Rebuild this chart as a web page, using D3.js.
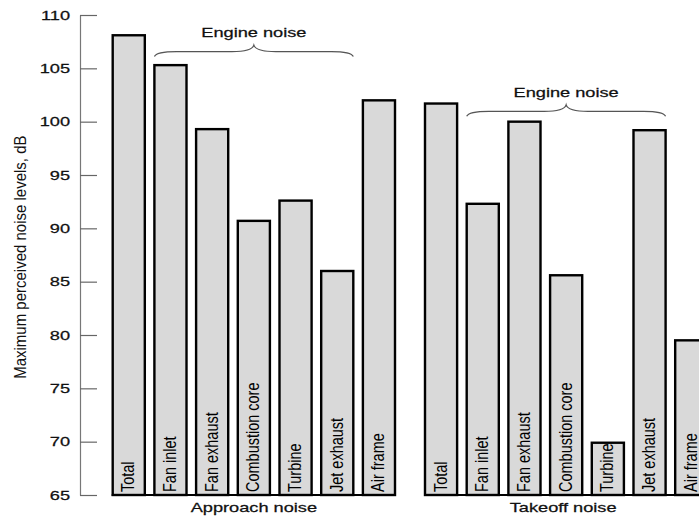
<!DOCTYPE html>
<html>
<head>
<meta charset="utf-8">
<script src="https://cdn.jsdelivr.net/npm/d3@7"></script>
<style>
  html, body { margin: 0; padding: 0; background: #fff; }
  svg { display: block; font-family: "Liberation Sans", Arial, sans-serif; }
</style>
</head>
<body>
<div id="chart"></div>
<script>
// --- datos ---
const categories = ['Total', 'Fan inlet', 'Fan exhaust', 'Combustion core', 'Turbine', 'Jet exhaust', 'Air frame'];
const engineParts = ['Fan inlet', 'Fan exhaust', 'Combustion core', 'Turbine', 'Jet exhaust'];
const groups = ['Approach noise', 'Takeoff noise'];
const approachValues = [108.1, 105.3, 99.3, 90.7, 92.6, 86.0, 102.0];
const takeoffValues = [101.7, 92.3, 100.0, 85.6, 69.9, 99.2, 79.5];
const braceLevels = [106.1, 100.5]; // nivel (dB) de la llave "Engine noise"
const yTicks = [65, 70, 75, 80, 85, 90, 95, 100, 105, 110];
const yLabel = 'Maximum perceived noise levels, dB';
const braceLabel = 'Engine noise';

const width = 699, height = 521;
const stretch = 1.4; // el original está estirado en horizontal

const svg = d3.select('#chart').append('svg')
  .attr('width', width)
  .attr('height', height);

const y = d3.scaleLinear().domain([65, 110]).range([495, 15]);

// una escala de bandas por grupo
const groupRanges = [[112.7, 395], [425, 707.3]];
const xScales = groupRanges.map(r => d3.scaleBand()
  .domain(categories)
  .range(r)
  .paddingInner(0.23)
  .paddingOuter(0)
  .align(0));

// --- eje Y ---
const axis = svg.append('g')
  .attr('transform', 'translate(80,0)')
  .call(d3.axisLeft(y).tickValues(yTicks).tickSizeInner(-17).tickSizeOuter(0).tickPadding(10));
axis.select('.domain').attr('stroke', '#777').attr('stroke-width', 1.2);
axis.selectAll('.tick line').attr('stroke', '#666').attr('stroke-width', 1.2);
axis.selectAll('.tick text')
  .attr('x', -10 / stretch)
  .attr('transform', `scale(${stretch},1)`)
  .attr('font-size', 13)
  .attr('font-family', '"Liberation Sans", Arial, sans-serif')
  .attr('fill', '#111')
  .attr('stroke', '#111')
  .attr('stroke-width', 0.25);

svg.append('text')
  .attr('transform', `translate(26,${y(87.3)}) scale(1.15,1) rotate(-90)`)
  .attr('text-anchor', 'middle')
  .attr('font-size', 15)
  .attr('fill', '#111')
  .text(yLabel);

// --- grupos ---
const seriesValues = [approachValues, takeoffValues];
groups.forEach((gname, gi) => {
  const x = xScales[gi];
  const vals = seriesValues[gi];
  const g = svg.append('g');

  // línea base
  g.append('line')
    .attr('x1', x.range()[0] - 1)
    .attr('x2', x.range()[1] + 1)
    .attr('y1', y(65))
    .attr('y2', y(65))
    .attr('stroke', '#000')
    .attr('stroke-width', 2);

  // barras
  g.selectAll('rect')
    .data(categories)
    .join('rect')
    .attr('x', d => x(d))
    .attr('y', (d, i) => y(vals[i]))
    .attr('width', x.bandwidth())
    .attr('height', (d, i) => y(65) - y(vals[i]))
    .attr('fill', '#d9d9d9')
    .attr('stroke', '#000')
    .attr('stroke-width', 2.4);

  // etiquetas dentro de las barras
  g.selectAll('text.bar-label')
    .data(categories)
    .join('text')
    .attr('class', 'bar-label')
    .attr('transform', d => `translate(${x(d) + x.bandwidth() / 2 + 5.5},${y(65) - 3}) scale(1.3,1) rotate(-90)`)
    .attr('font-size', 14.5)
    .attr('fill', '#000')
    .text(d => d);

  // título del grupo
  const cx = (x.range()[0] + x.range()[1]) / 2 - 3 * gi;
  svg.append('text')
    .attr('transform', `translate(${cx},512) scale(${stretch},1)`)
    .attr('text-anchor', 'middle')
    .attr('font-size', 13)
    .attr('fill', '#111')
    .attr('stroke', '#111')
    .attr('stroke-width', 0.25)
    .text(gname);

  // llave "Engine noise"
  const x0 = x(engineParts[0]);
  const x1 = x(engineParts[engineParts.length - 1]) + x.bandwidth();
  const xm = (x0 + x1) / 2;
  const yEnd = y(braceLevels[gi]);
  const yFlat = yEnd - 5;
  const yTip = yEnd - 11.5;
  const path = d3.path();
  path.moveTo(x0, yEnd);
  path.quadraticCurveTo(x0 + 2, yFlat, x0 + 22, yFlat);
  path.lineTo(xm - 22, yFlat);
  path.quadraticCurveTo(xm - 2, yFlat, xm, yTip);
  path.quadraticCurveTo(xm + 2, yFlat, xm + 22, yFlat);
  path.lineTo(x1 - 22, yFlat);
  path.quadraticCurveTo(x1 - 2, yFlat, x1, yEnd);
  svg.append('path')
    .attr('d', path.toString())
    .attr('fill', 'none')
    .attr('stroke', '#555')
    .attr('stroke-width', 1.3);

  svg.append('text')
    .attr('transform', `translate(${xm},${yTip - 8}) scale(${stretch},1)`)
    .attr('text-anchor', 'middle')
    .attr('font-size', 13)
    .attr('fill', '#111')
    .attr('stroke', '#111')
    .attr('stroke-width', 0.25)
    .text(braceLabel);
});
</script>
</body>
</html>
